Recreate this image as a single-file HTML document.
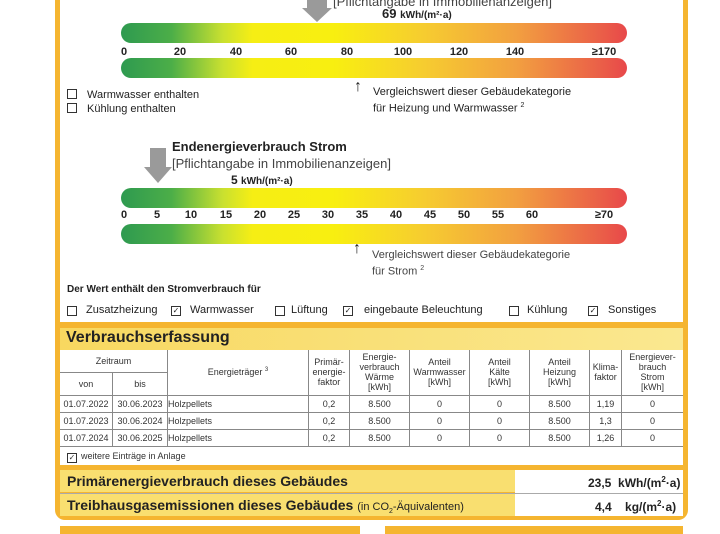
<!DOCTYPE html>
<html><head><meta charset="utf-8"><style>
body{margin:0;width:720px;height:530px;background:#fff;position:relative;overflow:hidden;font-family:"Liberation Sans",Arial,sans-serif;color:#222}
.a{position:absolute;white-space:nowrap}
.bar{position:absolute;left:121px;width:506px;height:20px;border-radius:10px;background:linear-gradient(90deg,#2e9a50 0%,#4cae48 10%,#c8e030 20%,#f6ee14 26%,#f8ef10 42%,#f6cc30 60%,#f2a040 78%,#ea5e48 95%,#e8484a 100%)}
.sc{position:absolute;font-size:11px;font-weight:bold;transform:translateX(-50%)}
.cb{position:absolute;width:8px;height:8px;border:1px solid #333;font-size:8px;line-height:8px;text-align:center}
.cbi{display:inline-block;width:8px;height:8px;border:1px solid #333;margin-right:10px;vertical-align:-1px;font-size:8px;line-height:8px;text-align:center}
table{border-collapse:collapse;font-size:9px;color:#333}
td{border:1px solid #888;text-align:center;padding:0}
</style></head><body>
<div class="a" style="left:55px;top:0;width:5px;height:325px;background:#f5b530"></div>
<div class="a" style="left:683px;top:0;width:5px;height:325px;background:#f5b530"></div>
<div class="a" style="left:55px;top:320px;width:633px;height:200px;background:#f5b530;border-radius:0 0 10px 10px"></div>
<div class="a" style="left:60px;top:0;width:623px;height:322px;background:#fff"></div>
<div class="a" style="left:60px;top:328px;width:623px;height:22px;background:linear-gradient(90deg,#f8d860,#fae890)"></div>
<div class="a" style="left:60px;top:350px;width:623px;height:115px;background:#fff"></div>
<div class="a" style="left:60px;top:470px;width:623px;height:22px;background:#f9df70"></div>
<div class="a" style="left:60px;top:494px;width:623px;height:22px;background:#f9df70"></div>
<div class="a" style="left:515px;top:470px;width:168px;height:46px;background:#fff"></div>
<div class="a" style="left:60px;top:526px;width:300px;height:8px;background:#f5b530"></div>
<div class="a" style="left:385px;top:526px;width:298px;height:8px;background:#f5b530"></div>

<div class="a" style="left:307px;top:0;width:20px;height:8px;background:#9a9a9a"></div>
<div class="a" style="left:302px;top:8px;width:0;height:0;border-left:15px solid transparent;border-right:15px solid transparent;border-top:14px solid #9a9a9a"></div>
<div class="a" style="left:333px;top:-6px;font-size:13px;color:#444">[Pflichtangabe in Immobilienanzeigen]</div>
<div class="a" style="left:382px;top:6px;font-size:13px;font-weight:bold">69 <span style="font-size:10px">kWh/(m²·a)</span></div>
<div class="bar" style="top:23px"></div>
<div class="sc" style="left:124px;top:46px">0</div><div class="sc" style="left:180px;top:46px">20</div><div class="sc" style="left:236px;top:46px">40</div><div class="sc" style="left:291px;top:46px">60</div><div class="sc" style="left:347px;top:46px">80</div><div class="sc" style="left:403px;top:46px">100</div><div class="sc" style="left:459px;top:46px">120</div><div class="sc" style="left:515px;top:46px">140</div><div class="sc" style="left:604px;top:46px">≥170</div>
<div class="bar" style="top:58px"></div>
<div class="a" style="left:354px;top:78px;font-size:16px">↑</div>
<div class="a" style="left:373px;top:86px;font-size:11px;line-height:13px">Vergleichswert dieser Gebäudekategorie<br>für Heizung und Warmwasser <sup style="font-size:7px">2</sup></div>
<div class="a" style="left:67px;top:88px;font-size:11px;line-height:14px"><span class="cbi"></span>Warmwasser enthalten<br><span class="cbi"></span>Kühlung enthalten</div>

<div class="a" style="left:150px;top:148px;width:16px;height:20px;background:#9a9a9a"></div>
<div class="a" style="left:144px;top:167px;width:0;height:0;border-left:14px solid transparent;border-right:14px solid transparent;border-top:16px solid #9a9a9a"></div>
<div class="a" style="left:172px;top:139px;font-size:13px;font-weight:bold">Endenergieverbrauch Strom</div>
<div class="a" style="left:172px;top:156px;font-size:13px;color:#444">[Pflichtangabe in Immobilienanzeigen]</div>
<div class="a" style="left:231px;top:173px;font-size:12px;font-weight:bold">5 <span style="font-size:10px">kWh/(m²·a)</span></div>
<div class="bar" style="top:188px"></div>
<div class="sc" style="left:124px;top:209px">0</div><div class="sc" style="left:157px;top:209px">5</div><div class="sc" style="left:191px;top:209px">10</div><div class="sc" style="left:226px;top:209px">15</div><div class="sc" style="left:260px;top:209px">20</div><div class="sc" style="left:294px;top:209px">25</div><div class="sc" style="left:328px;top:209px">30</div><div class="sc" style="left:362px;top:209px">35</div><div class="sc" style="left:396px;top:209px">40</div><div class="sc" style="left:430px;top:209px">45</div><div class="sc" style="left:464px;top:209px">50</div><div class="sc" style="left:498px;top:209px">55</div><div class="sc" style="left:532px;top:209px">60</div><div class="sc" style="left:604px;top:209px">≥70</div>
<div class="bar" style="top:224px"></div>
<div class="a" style="left:353px;top:240px;font-size:16px">↑</div>
<div class="a" style="left:372px;top:249px;font-size:11px;line-height:13px;color:#444">Vergleichswert dieser Gebäudekategorie<br>für Strom <sup style="font-size:7px">2</sup></div>
<div class="a" style="left:67px;top:284px;font-size:10px;font-weight:bold">Der Wert enthält den Stromverbrauch für</div>
<div style="font-size:11px">
<span class="cb" style="left:67px;top:306px"></span><span class="a" style="left:86px;top:304px">Zusatzheizung</span>
<span class="cb" style="left:171px;top:306px">✓</span><span class="a" style="left:190px;top:304px">Warmwasser</span>
<span class="cb" style="left:275px;top:306px"></span><span class="a" style="left:291px;top:304px">Lüftung</span>
<span class="cb" style="left:343px;top:306px">✓</span><span class="a" style="left:364px;top:304px">eingebaute Beleuchtung</span>
<span class="cb" style="left:509px;top:306px"></span><span class="a" style="left:527px;top:304px">Kühlung</span>
<span class="cb" style="left:588px;top:306px">✓</span><span class="a" style="left:608px;top:304px">Sonstiges</span>
</div>

<div class="a" style="left:66px;top:329px;font-size:16px;font-weight:bold;color:#222">Verbrauchserfassung</div>
<table class="a" style="left:60px;top:350px;width:623px">
<tr style="height:22px"><td colspan="2" style="border-top:none;border-left:none">Zeitraum</td><td rowspan="2" style="width:140px;border-top:none">Energieträger <sup style="font-size:6px">3</sup></td><td rowspan="2" style="width:40px;border-top:none">Primär-<br>energie-<br>faktor</td><td rowspan="2" style="width:59px;border-top:none">Energie-<br>verbrauch<br>Wärme<br>[kWh]</td><td rowspan="2" style="width:59px;border-top:none">Anteil<br>Warmwasser<br>[kWh]</td><td rowspan="2" style="width:59px;border-top:none">Anteil<br>Kälte<br>[kWh]</td><td rowspan="2" style="width:59px;border-top:none">Anteil<br>Heizung<br>[kWh]</td><td rowspan="2" style="width:31px;border-top:none">Klima-<br>faktor</td><td rowspan="2" style="border-top:none;border-right:none">Energiever-<br>brauch<br>Strom<br>[kWh]</td></tr>
<tr style="height:23px"><td style="width:52px;border-left:none">von</td><td style="width:54px">bis</td></tr>
<tr style="height:17px"><td style="border-left:none">01.07.2022</td><td>30.06.2023</td><td style="text-align:left">Holzpellets</td><td>0,2</td><td>8.500</td><td>0</td><td>0</td><td>8.500</td><td>1,19</td><td style="border-right:none">0</td></tr>
<tr style="height:17px"><td style="border-left:none">01.07.2023</td><td>30.06.2024</td><td style="text-align:left">Holzpellets</td><td>0,2</td><td>8.500</td><td>0</td><td>0</td><td>8.500</td><td>1,3</td><td style="border-right:none">0</td></tr>
<tr style="height:17px"><td style="border-left:none">01.07.2024</td><td>30.06.2025</td><td style="text-align:left">Holzpellets</td><td>0,2</td><td>8.500</td><td>0</td><td>0</td><td>8.500</td><td>1,26</td><td style="border-right:none">0</td></tr>
</table>
<div class="a" style="left:67px;top:451px;font-size:9px;color:#333"><span class="cbi" style="margin-right:4px">✓</span>weitere Einträge in Anlage</div>
<div class="a" style="left:67px;top:473px;font-size:14px;font-weight:bold">Primärenergieverbrauch dieses Gebäudes</div>
<div class="a" style="left:588px;top:475px;font-size:12px;font-weight:bold">23,5 &nbsp;kWh/(m<sup style="font-size:8px">2</sup>·a)</div>
<div class="a" style="left:60px;top:493px;width:623px;height:1px;background:#aaa"></div>
<div class="a" style="left:67px;top:497px;font-size:14px;font-weight:bold">Treibhausgasemissionen dieses Gebäudes <span style="font-size:11px;font-weight:normal">(in CO<sub style="font-size:7px">2</sub>-Äquivalenten)</span></div>
<div class="a" style="left:595px;top:499px;font-size:12px;font-weight:bold">4,4 &nbsp;&nbsp;&nbsp;kg/(m<sup style="font-size:8px">2</sup>·a)</div>
</body></html>
